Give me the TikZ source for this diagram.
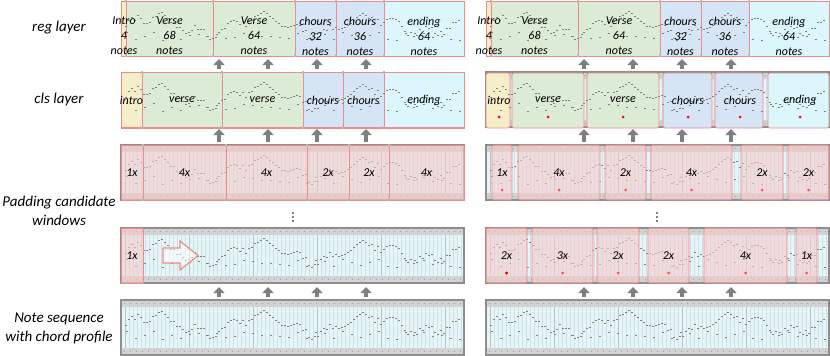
\documentclass[tikz,border=0pt]{standalone}
\usepackage{fontspec}
\setmainfont{Carlito}
\usetikzlibrary{arrows.meta}
\definecolor{segline}{HTML}{F08A8A}
\definecolor{segpink}{HTML}{F6C9C9}
\definecolor{introfill}{HTML}{F6EEC8}
\definecolor{versefill}{HTML}{DCEBD5}
\definecolor{chorfill}{HTML}{D5E5F5}
\definecolor{endfill}{HTML}{DBF7FB}
\definecolor{rollbg}{HTML}{E6F6F8}
\definecolor{gridcol}{HTML}{CCE0E6}
\definecolor{stripcol}{HTML}{D2D2D2}
\definecolor{framecol}{HTML}{8E8E8E}
\definecolor{arrowcol}{HTML}{7F7F7F}
\definecolor{notecol}{HTML}{808080}

\tikzset{
  seg/.style={draw=segline,line width=0.9pt},
  rseg/.style={seg,rounded corners=2pt},
  lbl/.style={font=\fontsize{12}{15}\selectfont\itshape,align=center,inner sep=0pt},
  rowlbl/.style={font=\fontsize{15}{19}\selectfont\itshape,align=center,inner sep=0pt},
  rowbox/.style={anchor=north west,minimum width=343pt,minimum height=55pt,inner sep=0pt,outer sep=0pt},
  uparrow/.style={draw=arrowcol,line width=4pt,-{Triangle[width=11pt,length=6pt]}},
  hit/.style={circle,fill=red,inner sep=0pt,minimum size=3pt},
  handle/.style={fill=gray!55},
}

% piano-roll background: grid, time strips, frame
\newcommand\pianoroll[2]{%
  \fill[rollbg] (#1,#2) rectangle ++(343,55);
  \foreach \k in {1,...,85}{\draw[gridcol,line width=0.3pt] (#1+\k*4,#2+7) -- ++(0,41);}
  \foreach \k in {0,...,5}{\draw[gridcol!70!gray,line width=0.4pt] (#1+4+\k*64,#2+7) -- ++(0,41);}
  \fill[stripcol] (#1,#2) rectangle ++(343,7);
  \fill[stripcol] (#1,#2+48) rectangle ++(343,7);
  \foreach \k in {0,...,56}{%
    \fill[gray!75] (#1+3+\k*6,#2+3) rectangle ++(1.4,0.9);
    \fill[gray!75] (#1+3+\k*6,#2+51) rectangle ++(1.4,0.9);}
  \draw[framecol,line width=1.2pt] (#1,#2) rectangle ++(343,55);
}
% the same melody in every row
\newcommand\melody[2]{%
  \pgfmathsetseed{4711}%
  \foreach \i in {0,...,111}{%
    \pgfmathsetmacro\my{#2+24-8*sin(\i*10)-4*sin(\i*33+20)+3*rand}%
    \fill[notecol] (#1+4+\i*3,\my) rectangle ++(1.5,0.8);
    \pgfmathtruncatemacro\r{mod(\i,3)}%
    \pgfmathsetmacro\ly{#2+35+4*rand}%
    \ifnum\r=0 \fill[notecol] (#1+5+\i*3,\ly) rectangle ++(1.8,0.8);\fi
  }}
% grey handles on segment borders
\newcommand\handles[3]{%
  \foreach \hx in {#1}{\fill[handle] (\hx-1.2,#2-1.2) rectangle ++(2.4,2.4);
                       \fill[handle] (\hx-1.2,#3-1.2) rectangle ++(2.4,2.4);}}

\begin{document}
\begin{tikzpicture}[x=1pt,y=-1pt]
\useasboundingbox (0,0) rectangle (830,356);

% row captions
\node[rowlbl] (labReg) at (59,28) {reg layer};
\node[rowlbl] (labCls) at (59,99) {cls layer};
\node[rowlbl] (labWin) at (59,211) {Padding candidate\\windows};
\node[rowlbl] (labSeq) at (59,328) {Note sequence\\with chord profile};

% reg layer, same in both panels
\foreach \ox/\p in {0/L,365/R}{
  \foreach \a/\b/\c in {121/126/introfill,126/213/versefill,213/295/versefill,
                        295/336/chorfill,336/384/chorfill,384/464/endfill}
    \draw[seg,fill=\c] (\ox+\a,1) rectangle (\ox+\b,56);
  \melody{\ox+121}{1}
  \node[rowbox,draw=segline,line width=0.9pt] (reg\p) at (\ox+121,1) {};
  \handles{\ox+126,\ox+213,\ox+295,\ox+336,\ox+384}{1.5}{55.5}
  \foreach \cx/\t [count=\n] in {124/Intro\\4\\notes,169.5/Verse\\68\\notes,
                                  254/Verse\\64\\notes,315.5/chours\\32\\notes,
                                  360/chours\\36\\notes,424/ending\\64\\notes}
    \node[lbl] (reg\p\n) at (\ox+\cx,36) {\t};
}

% cls layer, left
\foreach \a/\b/\c in {121/142/introfill,142/222/versefill,222/303/versefill,
                      303/343/chorfill,343/384/chorfill,384/464/endfill}
  \draw[seg,fill=\c] (\a,72) rectangle (\b,128);
\melody{121}{72}
\node[rowbox,draw=segline,line width=0.9pt] (clsL) at (121,72) {};
\handles{142,222,303,343,384}{72.5}{127.5}
\foreach \cx/\t [count=\n] in {131.5/intro,182/verse,262.5/verse,323/chours,363.5/chours,424/ending}
  \node[lbl] (clsL\n) at (\cx,100) {\t};

% cls layer, right
\pianoroll{486}{72}
\foreach \a/\b/\c in {486/510/introfill,512/584/versefill,587/659/versefill,
                      663/712/chorfill,715/763/chorfill,768/829/endfill}
  \draw[rseg,fill=\c] (\a,73) rectangle (\b,128);
\melody{486}{72}
\node[rowbox] (clsR) at (486,72) {};
\foreach \cx/\t [count=\n] in {499/intro,548/verse,623/verse,688/chours,740/chours,800/ending}{
  \node[lbl] (clsR\n) at (\cx,100) {\t};
  \node[hit] (clsRd\n) at (\cx,117) {};
}

% upper candidate windows
\pianoroll{121}{145}
\melody{121}{145}
\foreach \a/\b in {121/143,143/226,226/307,307/349,349/389,389/464}
  \draw[seg,fill=segpink,fill opacity=0.6] (\a,145) rectangle (\b,200);
\node[rowbox] (topwinL) at (121,145) {};
\handles{143,226,307,349,389}{145.5}{199.5}
\foreach \cx/\t [count=\n] in {132/1x,184.5/4x,266.5/4x,328/2x,369/2x,426.5/4x}
  \node[lbl] (topwinL\n) at (\cx,173) {\t};

\pianoroll{486}{145}
\melody{486}{145}
\foreach \a/\b in {492/512,518/600,605/646,651/732,741/783,788/829}
  \draw[rseg,fill=segpink,fill opacity=0.6] (\a,145) rectangle (\b,200);
\node[rowbox] (topwinR) at (486,145) {};
\foreach \cx/\t [count=\n] in {502/1x,559/4x,625.5/2x,691.5/4x,762/2x,808.5/2x}{
  \node[lbl] (topwinR\n) at (\cx,173) {\t};
  \node[hit,fill=red!70] (topwinRd\n) at (\cx,190) {};
}

% omitted windows in between
\coordinate (dotsL) at (293,217);
\coordinate (dotsR) at (657,217);
\foreach \d in {-4,0,4}{
  \fill ([yshift=\d pt]dotsL) circle (0.9pt);
  \fill ([yshift=\d pt]dotsR) circle (0.9pt);
}

% lower candidate windows
\pianoroll{121}{228}
\melody{121}{228}
\draw[seg,fill=segpink,fill opacity=0.6] (121,228) rectangle (143,283);
\node[rowbox] (lowwinL) at (121,228) {};
\node[lbl] (lowwinL1) at (132,256) {1x};
\draw[seg,line width=1.2pt,fill=white,fill opacity=0.55]
  (163,248) -- (180,248) -- (180,241) -- (198,255.5) -- (180,270) -- (180,263) -- (163,263) -- cycle;

\pianoroll{486}{228}
\melody{486}{228}
\foreach \a/\b in {486/527,532/593,597/639,648/689,704/787,796/817}
  \draw[rseg,fill=segpink,fill opacity=0.6] (\a,228) rectangle (\b,283);
\node[rowbox] (lowwinR) at (486,228) {};
\foreach \cx/\t [count=\n] in {506.5/2x,562.5/3x,618/2x,668.5/2x,745.5/4x,806.5/1x}{
  \node[lbl] (lowwinR\n) at (\cx,256) {\t};
  \node[hit,fill=red!70] (lowwinRd\n) at (\cx,273) {};
}
\node[hit,fill=red!85!black] at (lowwinRd1) {};

% note sequences
\pianoroll{121}{300}
\melody{121}{300}
\node[rowbox] (seqL) at (121,300) {};
\pianoroll{486}{300}
\melody{486}{300}
\node[rowbox] (seqR) at (486,300) {};

% arrows between layers
\foreach \p in {L,R}{
  \foreach \ax in {98,147,196,245}{
    \draw[uparrow] ([xshift=\ax pt,yshift=3pt]cls\p.north west) -- ([xshift=\ax pt,yshift=-3pt]reg\p.south west);
    \draw[uparrow] ([xshift=\ax pt,yshift=3pt]topwin\p.north west) -- ([xshift=\ax pt,yshift=-2pt]cls\p.south west);
    \draw[uparrow] ([xshift=\ax pt,yshift=3pt]seq\p.north west) -- ([xshift=\ax pt,yshift=-4pt]lowwin\p.south west);
  }
}
\end{tikzpicture}
\end{document}
